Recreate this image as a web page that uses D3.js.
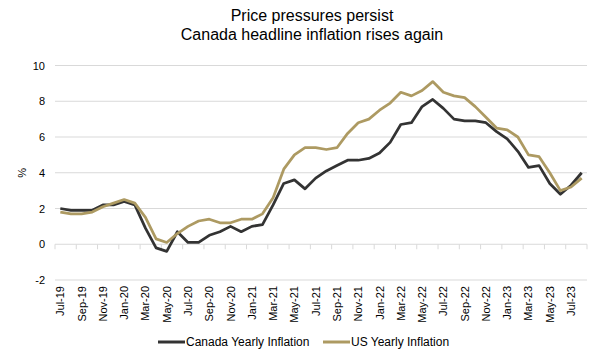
<!DOCTYPE html>
<html>
<head>
<meta charset="utf-8">
<script src="https://cdn.jsdelivr.net/npm/d3@7"></script>
<style>
  body { margin: 0; background: #fff; }
  svg { font-family: "Liberation Sans", Arial, sans-serif; }
</style>
</head>
<body>
<div id="chart"></div>
<script>
// data
var months = ["Jul-19","Aug-19","Sep-19","Oct-19","Nov-19","Dec-19",
  "Jan-20","Feb-20","Mar-20","Apr-20","May-20","Jun-20","Jul-20","Aug-20","Sep-20","Oct-20","Nov-20","Dec-20",
  "Jan-21","Feb-21","Mar-21","Apr-21","May-21","Jun-21","Jul-21","Aug-21","Sep-21","Oct-21","Nov-21","Dec-21",
  "Jan-22","Feb-22","Mar-22","Apr-22","May-22","Jun-22","Jul-22","Aug-22","Sep-22","Oct-22","Nov-22","Dec-22",
  "Jan-23","Feb-23","Mar-23","Apr-23","May-23","Jun-23","Jul-23","Aug-23"];

var canada = [2.0,1.9,1.9,1.9,2.2,2.2,
  2.4,2.2,0.9,-0.2,-0.4,0.7,0.1,0.1,0.5,0.7,1.0,0.7,
  1.0,1.1,2.2,3.4,3.6,3.1,3.7,4.1,4.4,4.7,4.7,4.8,
  5.1,5.7,6.7,6.8,7.7,8.1,7.6,7.0,6.9,6.9,6.8,6.3,
  5.9,5.2,4.3,4.4,3.4,2.8,3.3,4.0];

var us = [1.8,1.7,1.7,1.8,2.1,2.3,
  2.5,2.3,1.5,0.3,0.1,0.6,1.0,1.3,1.4,1.2,1.2,1.4,
  1.4,1.7,2.6,4.2,5.0,5.4,5.4,5.3,5.4,6.2,6.8,7.0,
  7.5,7.9,8.5,8.3,8.6,9.1,8.5,8.3,8.2,7.7,7.1,6.5,
  6.4,6.0,5.0,4.9,4.0,3.0,3.2,3.7];

var yTicks = [-2, 0, 2, 4, 6, 8, 10];
var titleLines = ["Price pressures persist", "Canada headline inflation rises again"];
var seriesNames = ["Canada Yearly Inflation", "US Yearly Inflation"];
var colors = ["#333333", "#ad9a62"];

var w = 600, h = 360;
var plotLeft = 55, plotRight = 587, plotTop = 65.5, plotBottom = 280;

var svg = d3.select("#chart").append("svg")
    .attr("width", w)
    .attr("height", h);

// scales
var xScale = d3.scaleBand()
    .domain(months)
    .range([plotLeft, plotRight]);

var yScale = d3.scaleLinear()
    .domain([-2, 10])
    .range([plotBottom, plotTop]);

// title
svg.selectAll(".title")
    .data(titleLines)
    .enter()
    .append("text")
    .attr("class", "title")
    .attr("x", 312)
    .attr("y", function (d, i) { return 21 + i * 19; })
    .attr("text-anchor", "middle")
    .attr("font-size", 16)
    .attr("fill", "#000")
    .text(function (d) { return d; });

// gridlines
svg.append("g")
    .selectAll("line")
    .data(yTicks)
    .enter()
    .append("line")
    .attr("x1", plotLeft)
    .attr("x2", plotRight)
    .attr("y1", function (d) { return yScale(d); })
    .attr("y2", function (d) { return yScale(d); })
    .attr("stroke", "#d9d9d9")
    .attr("stroke-width", 1);

// y axis
var yAxis = d3.axisLeft(yScale)
    .tickValues(yTicks)
    .tickFormat(function (d) { return String(d); })
    .tickSize(0)
    .tickPadding(10);

svg.append("g")
    .attr("transform", "translate(" + plotLeft + ",0)")
    .call(yAxis)
    .call(function (g) { g.select(".domain").remove(); })
    .selectAll("text")
    .attr("font-size", 11)
    .attr("font-family", "Liberation Sans, Arial, sans-serif")
    .attr("fill", "#000");

svg.append("text")
    .attr("transform", "translate(26," + yScale(4) + ") rotate(-90)")
    .attr("text-anchor", "middle")
    .attr("font-size", 11)
    .text("%");

// tick marks on the zero line, every 2 months at category boundaries
var tickIdx = d3.range(0, months.length + 1, 2);
svg.append("g")
    .selectAll("line")
    .data(tickIdx)
    .enter()
    .append("line")
    .attr("x1", function (d) { return plotLeft + d * xScale.step(); })
    .attr("x2", function (d) { return plotLeft + d * xScale.step(); })
    .attr("y1", yScale(0))
    .attr("y2", yScale(0) + 5)
    .attr("stroke", "#d9d9d9");

// x labels
var labelMonths = months.filter(function (d, i) { return i % 2 === 0; });
svg.append("g")
    .selectAll("text")
    .data(labelMonths)
    .enter()
    .append("text")
    .attr("transform", function (d) {
        return "translate(" + (xScale(d) + xScale.bandwidth() / 2 + 4) + "," + (plotBottom + 6) + ") rotate(-90)";
    })
    .attr("text-anchor", "end")
    .attr("font-size", 11)
    .attr("fill", "#000")
    .text(function (d) { return d; });

// lines
var line = d3.line()
    .x(function (d, i) { return xScale(months[i]) + xScale.bandwidth() / 2; })
    .y(function (d) { return yScale(d); });

[canada, us].forEach(function (s, i) {
    svg.append("path")
        .datum(s)
        .attr("fill", "none")
        .attr("stroke", colors[i])
        .attr("stroke-width", 2.75)
        .attr("stroke-linejoin", "round")
        .attr("d", line);
});

// legend
var legendX = [158, 323];
var legend = svg.append("g");
seriesNames.forEach(function (name, i) {
    legend.append("line")
        .attr("x1", legendX[i])
        .attr("x2", legendX[i] + 27)
        .attr("y1", 342)
        .attr("y2", 342)
        .attr("stroke", colors[i])
        .attr("stroke-width", 3);
    legend.append("text")
        .attr("x", legendX[i] + 28)
        .attr("y", 346)
        .attr("font-size", 12)
        .attr("fill", "#000")
        .text(name);
});
</script>
</body>
</html>
